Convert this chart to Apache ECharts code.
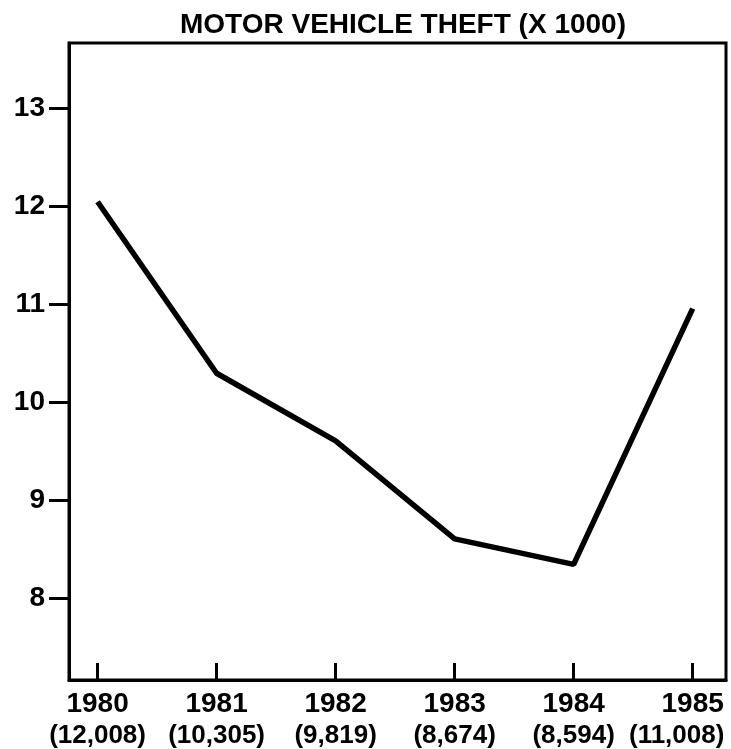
<!DOCTYPE html>
<html>
<head>
<meta charset="utf-8">
<title>Motor vehicle theft</title>
<script src="https://cdn.jsdelivr.net/npm/echarts@6/dist/echarts.min.js"></script>
<style>
  html, body { margin: 0; padding: 0; background: #fff; }
  #main { width: 731px; height: 749px; }
</style>
</head>
<body>
<div id="main"></div>
<script>
// values (thousands)
const years = [1980, 1981, 1982, 1983, 1984, 1985];
const theft = [12.05, 10.30, 9.61, 8.61, 8.35, 10.96];
const countLabels = ['(12,008)', '(10,305)', '(9,819)', '(8,674)', '(8,594)', '(11,008)'];
const yTicks = [8, 9, 10, 11, 12, 13];

const font = '"Liberation Sans", Arial, sans-serif';
const yearTxt = { fontFamily: font, fontSize: 28, fontWeight: 'bold', color: '#000', lineHeight: 32 };
const countTxt = { fontFamily: font, fontSize: 26, fontWeight: 'bold', color: '#000', lineHeight: 32 };

var myChart = echarts.init(document.getElementById('main'));

const points = [];
for (var i = 0; i < years.length; i++) {
  points.push([years[i], theft[i]]);
}

myChart.setOption({
  animation: false,
  title: {
    text: 'MOTOR VEHICLE THEFT (X 1000)',
    left: 398,
    top: 6,
    textAlign: 'center',
    textStyle: { fontFamily: font, fontSize: 28, fontWeight: 'bold', color: '#000' }
  },
  grid: {
    left: 69, right: 5, top: 43, bottom: 69,
    outerBoundsMode: 'none',
    show: true, borderColor: '#000', borderWidth: 3
  },
  xAxis: {
    type: 'value',
    min: 1979.76,
    max: 1985.28,
    splitLine: { show: false },
    axisLine: { lineStyle: { color: '#000', width: 3 } },
    axisTick: {
      inside: true, length: 17, customValues: years,
      lineStyle: { color: '#000', width: 3 }
    },
    axisLabel: {
      customValues: years,
      showMinLabel: true,
      showMaxLabel: true,
      hideOverlap: false,
      margin: 8,
      fontFamily: font, fontSize: 28, fontWeight: 'bold', color: '#000',
      lineHeight: 32,
      formatter: function (v) {
        const idx = years.indexOf(Math.round(v));
        // last count label sits left of its tick so it stays inside the frame
        const key = idx === years.length - 1 ? 'e' : 'c';
        return '{y|' + v + '}\n{' + key + '|' + countLabels[idx] + '}';
      },
      rich: {
        y: yearTxt,
        c: countTxt,
        e: Object.assign({}, countTxt, { padding: [0, 32, 0, 0] })
      }
    }
  },
  yAxis: {
    type: 'value',
    min: 7.17,
    max: 13.67,
    splitLine: { show: false },
    axisLine: { lineStyle: { color: '#000', width: 3 } },
    axisTick: {
      length: 20, customValues: yTicks,
      lineStyle: { color: '#000', width: 3 }
    },
    axisLabel: {
      customValues: yTicks,
      margin: 24,
      padding: [0, 0, 8, 0],
      fontFamily: font, fontSize: 28, fontWeight: 'bold', color: '#000'
    }
  },
  series: [
    {
      type: 'line',
      data: points,
      showSymbol: false,
      lineStyle: { color: '#000', width: 5.5 }
    }
  ]
});
</script>
</body>
</html>
